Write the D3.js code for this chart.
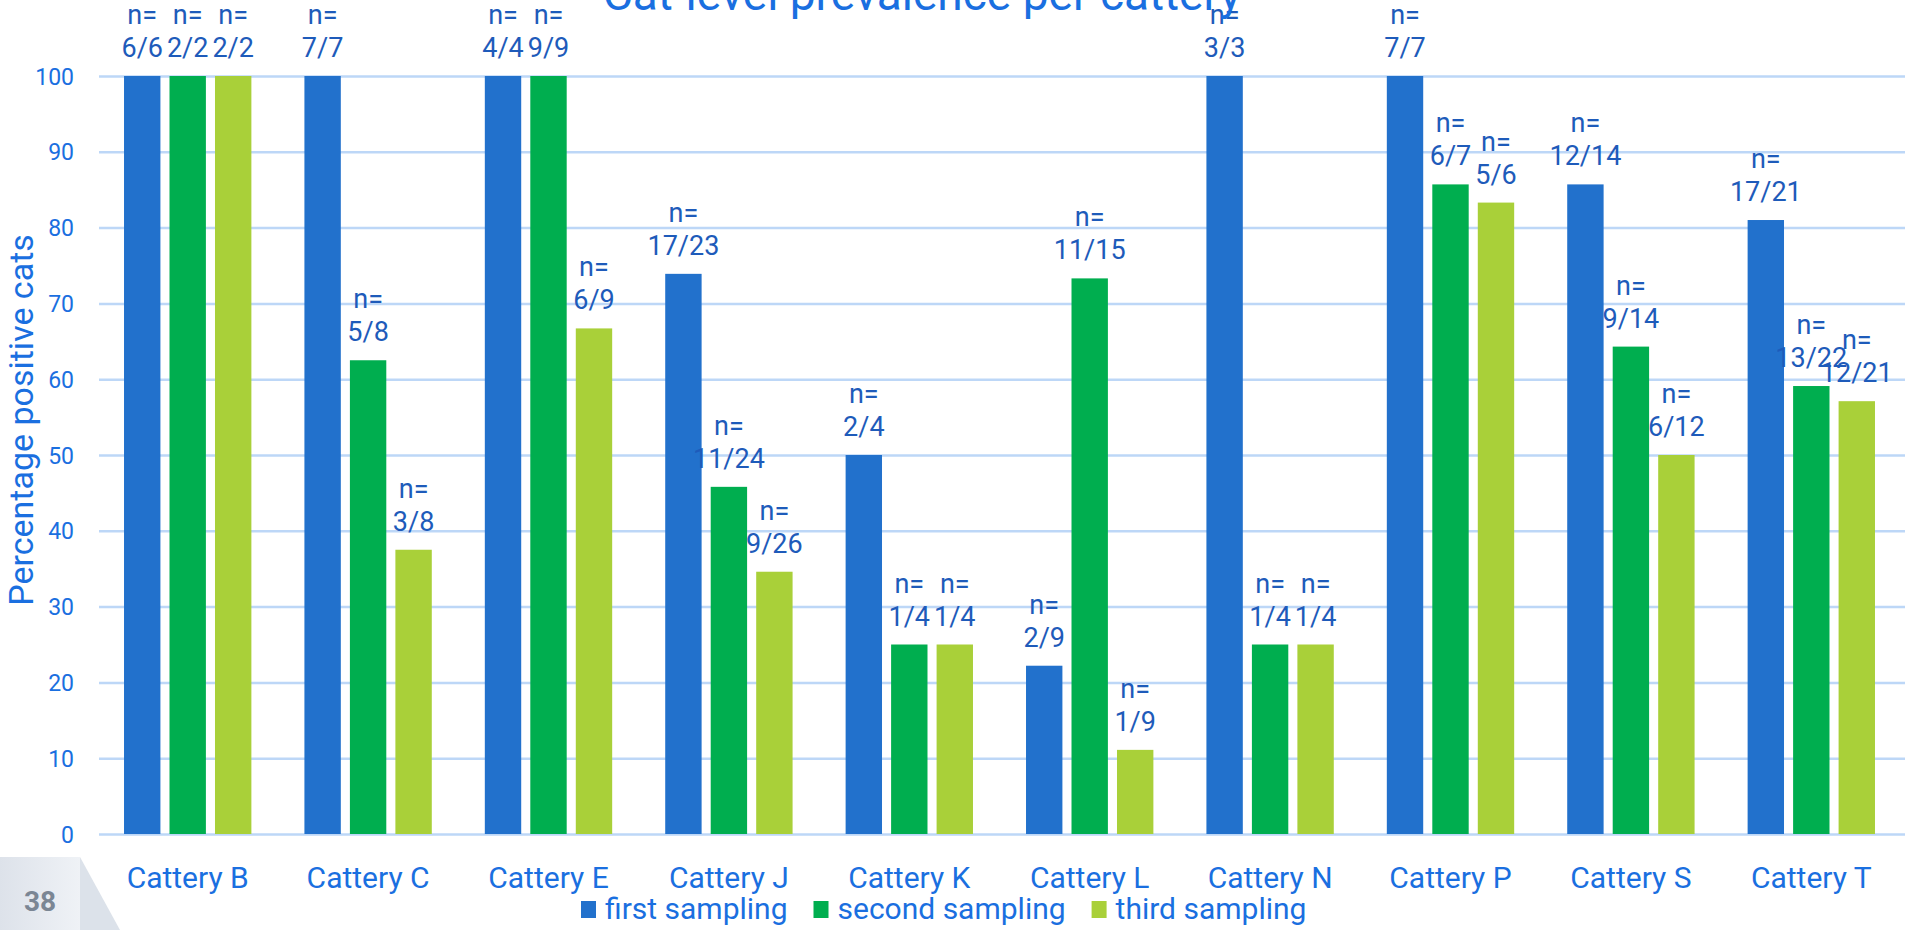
<!DOCTYPE html>
<html>
<head>
<meta charset="utf-8">
<script src="https://cdn.jsdelivr.net/npm/d3@7"></script>
<style>
  html, body { margin: 0; padding: 0; background: #ffffff; }
  svg { display: block; }
</style>
</head>
<body>
<svg id="chart" width="1905" height="930"></svg>
<script>
const categories = ["Cattery B","Cattery C","Cattery E","Cattery J","Cattery K","Cattery L","Cattery N","Cattery P","Cattery S","Cattery T"];
const seriesNames = ["first sampling","second sampling","third sampling"];
const firstSampling  = [100, 100, 100, 73.9, 50, 22.2, 100, 100, 85.7, 81.0];
const secondSampling = [100, 62.5, 100, 45.8, 25, 73.3, 25, 85.7, 64.3, 59.1];
const thirdSampling  = [100, 37.5, 66.7, 34.6, 25, 11.1, 25, 83.3, 50, 57.1];
const firstLabels  = ["6/6","7/7","4/4","17/23","2/4","2/9","3/3","7/7","12/14","17/21"];
const secondLabels = ["2/2","5/8","9/9","11/24","1/4","11/15","1/4","6/7","9/14","13/22"];
const thirdLabels  = ["2/2","3/8","6/9","9/26","1/4","1/9","1/4","5/6","6/12","12/21"];
const yTicks = [0,10,20,30,40,50,60,70,80,90,100];
const colors = ["#2271CC","#00AE4F","#A9D039"];

const values = [firstSampling, secondSampling, thirdSampling];
const labels = [firstLabels, secondLabels, thirdLabels];

const svg = d3.select("#chart");
const W = 1905, H = 930;
const plotLeft = 99, plotTop = 76, plotBottom = 834;

const y = d3.scaleLinear().domain([0, 100]).range([plotBottom, plotTop]);
const x0 = d3.scaleBand().domain(categories).range([97.5, 1901.5]).paddingInner(0.294).paddingOuter(0.147);
const x1 = d3.scaleBand().domain(d3.range(seriesNames.length)).range([0, x0.bandwidth()]).paddingInner(0.2).paddingOuter(0);

const labelColor = "#1E5BBA";
const axisColor = "#1A6FE0";
const font = "Roboto, 'Noto Sans', sans-serif";

// gridlines
const grid = svg.append("g").attr("transform", `translate(${plotLeft},0)`)
  .call(d3.axisLeft(y).tickValues(yTicks).tickSize(-(W - plotLeft)).tickFormat(""));
grid.select(".domain").remove();
grid.selectAll(".tick line").attr("stroke", "#BDD7F7").attr("stroke-width", 2.5);

// tick labels
const yAxis = svg.append("g").attr("transform", `translate(74,0)`)
  .call(d3.axisLeft(y).tickValues(yTicks).tickSize(0).tickPadding(0));
yAxis.select(".domain").remove();
yAxis.selectAll("text").attr("fill", axisColor).attr("font-family", font).attr("font-size", 23)
  .attr("dy", "0.35em");

// bars
const rows = categories.map((c, i) => ({ cat: c, vals: values.map((s, k) => ({ k, v: s[i], lab: labels[k][i] })) }));
const groups = svg.append("g").selectAll("g").data(rows).join("g")
  .attr("transform", d => `translate(${x0(d.cat)},0)`);
groups.selectAll("rect").data(d => d.vals).join("rect")
  .attr("x", d => x1(d.k))
  .attr("y", d => y(d.v))
  .attr("width", x1.bandwidth())
  .attr("height", d => y(0) - y(d.v))
  .attr("fill", d => colors[d.k]);

// data labels
const lab = groups.selectAll("text").data(d => d.vals).join("text")
  .attr("text-anchor", "middle")
  .attr("font-family", font)
  .attr("font-size", 27)
  .attr("fill", labelColor);
lab.append("tspan").attr("x", d => x1(d.k) + x1.bandwidth() / 2).attr("y", d => y(d.v) - 52).text("n=");
lab.append("tspan").attr("x", d => x1(d.k) + x1.bandwidth() / 2).attr("y", d => y(d.v) - 19).text(d => d.lab);

// x axis labels
const xAxis = svg.append("g").attr("transform", `translate(0,${plotBottom})`)
  .call(d3.axisBottom(x0).tickSize(0).tickPadding(0));
xAxis.select(".domain").remove();
xAxis.selectAll("text").attr("fill", axisColor).attr("font-family", font).attr("font-size", 30)
  .attr("dy", 0).attr("y", 54);

// y axis title
svg.append("text")
  .attr("transform", `translate(33,${420}) rotate(-90)`)
  .attr("text-anchor", "middle")
  .attr("font-family", font)
  .attr("font-size", 34)
  .attr("fill", axisColor)
  .text("Percentage positive cats");

// title
svg.append("text")
  .attr("x", 922).attr("y", 10)
  .attr("text-anchor", "middle")
  .attr("font-family", font)
  .attr("font-size", 46)
  .attr("fill", axisColor)
  .text("Cat-level prevalence per cattery");

// legend
const legend = svg.append("g");
let lx = 581;
seriesNames.forEach((name, k) => {
  legend.append("rect").attr("x", lx).attr("y", 901).attr("width", 15).attr("height", 17).attr("fill", colors[k]);
  const t = legend.append("text").attr("x", lx + 24).attr("y", 919)
    .attr("font-family", font).attr("font-size", 30).attr("fill", axisColor).text(name);
  lx = lx + 24 + t.node().getComputedTextLength() + 26;
});

// page number box
const defs = svg.append("defs");
const grad = defs.append("linearGradient").attr("id", "pg").attr("x1", "0").attr("x2", "1").attr("y1", "0").attr("y2", "0");
grad.append("stop").attr("offset", "0").attr("stop-color", "#DDE2EA");
grad.append("stop").attr("offset", "1").attr("stop-color", "#EFF2F6");
svg.append("path").attr("d", "M80,857 L120,930 L80,930 Z").attr("fill", "#DCE2EA");
svg.append("rect").attr("x", 0).attr("y", 857).attr("width", 80).attr("height", 73).attr("fill", "url(#pg)");
svg.append("text").attr("x", 40).attr("y", 911).attr("text-anchor", "middle")
  .attr("font-family", font).attr("font-weight", "bold").attr("font-size", 28).attr("fill", "#7B8694").text("38");
</script>
</body>
</html>
